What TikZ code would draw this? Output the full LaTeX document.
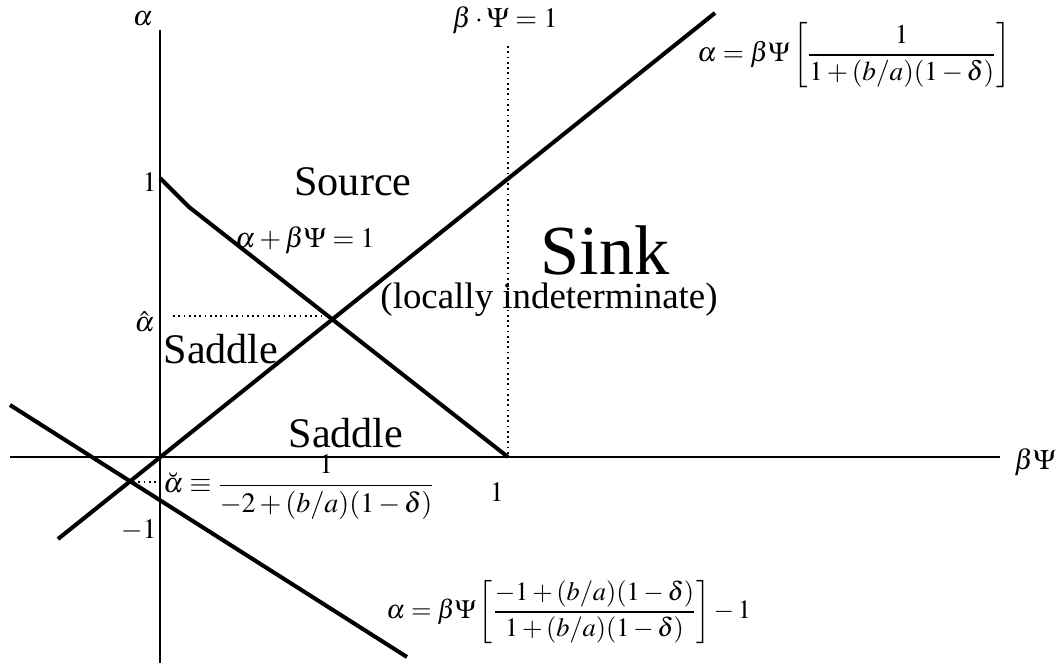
\documentclass[tikz,border=0pt]{standalone}
\usepackage{mathptmx}
\usepackage{amsmath}
\usepackage{fontspec}
\setmainfont{Liberation Serif}

\tikzset{
  achse/.style={line width=1.1pt},
  gerade/.style={line width=2.3pt},
  punkte/.style={line width=1pt, dotted},
  formel/.style={inner sep=0pt, font=\fontsize{16}{19}\selectfont},
  gebiet/.style={inner sep=0pt, font=\fontsize{24}{28}\selectfont}
}

\begin{document}
\begin{tikzpicture}[x=0.02cm,y=-0.02cm]
    \useasboundingbox (0,0) rectangle (1056,663);
    % Achsen:
    \coordinate (O) at (160,457);
    \draw[achse] (10,457) -- (1000,457); % waagrecht
    \draw[achse] (160,30) -- (160,663); % senkrecht
    \node[formel] (alab) at (143,19) {$\alpha$};
    \node[formel] (blab) at (1035,462) {$\beta\Psi$};
    % Geraden:
    \coordinate (gA) at (58,539);
    \coordinate (gB) at (715,13);
    \draw[gerade] (gA) -- (gB); % alpha = betaPsi[...]
    \coordinate (uA) at (10,405);
    \coordinate (uB) at (407,657);
    \draw[gerade] (uA) -- (uB); % untere Gerade
    \coordinate (sA) at (160,178);
    \coordinate (sK) at (189,207);
    \coordinate (sB) at (508,457);
    \draw[gerade, line join=round] (sA) -- (sK) -- (sB); % alpha + betaPsi = 1
    % gepunktete Linien:
    \coordinate (eins) at (508,46);
    \draw[punkte, line width=0.8pt] (eins) -- (sB);
    \coordinate (hat) at (173,316);
    \coordinate (X) at (328,316);
    \draw[punkte, line width=1.4pt] (hat) -- (X);
    \coordinate (brv) at (133,482);
    \coordinate (brvE) at (158,482);
    \draw[punkte, line width=1.4pt] (brv) -- (brvE);
    % Beschriftung Achsen:
    \node[formel, anchor=east] (t1) at (157,182) {$1$};
    \node[formel, anchor=east] (that) at (155,322) {$\hat{\alpha}$};
    \node[formel, anchor=east] (tm1) at (157,530) {$-1$};
    \node[formel] (t1x) at (497,492) {$1$};
    \node[formel, anchor=west] (tbrv) at (163,487)
        {$\breve{\alpha}\equiv\dfrac{1}{-2+(b/a)(1-\delta)}$};
    % Gebiete:
    \node[gebiet] (src) at (353,182) {Source};
    \node[gebiet] (sad1) at (221,349) {Saddle};
    \node[gebiet] (sad2) at (346,433) {Saddle};
    \node[inner sep=0pt, font=\fontsize{40}{46}\selectfont] (sink) at (605,250) {Sink};
    \node[inner sep=0pt, font=\fontsize{21}{25}\selectfont] (lok) at (549,300) {(locally indeterminate)};
    % Formeln:
    \node[formel] (f1) at (305,240) {$\alpha+\beta\Psi=1$};
    \node[formel] (f2) at (505,20) {$\beta\cdot\Psi=1$};
    \node[formel, anchor=west, font=\fontsize{15.5}{18}\selectfont] (f3) at (697,55)
        {$\alpha=\beta\Psi\left[\dfrac{1}{1+(b/a)(1-\delta)}\right]$};
    \node[formel, anchor=west, font=\fontsize{15}{18}\selectfont] (f4) at (386,612)
        {$\alpha=\beta\Psi\left[\dfrac{-1+(b/a)(1-\delta)}{1+(b/a)(1-\delta)}\right]-1$};
\end{tikzpicture}
\end{document}
